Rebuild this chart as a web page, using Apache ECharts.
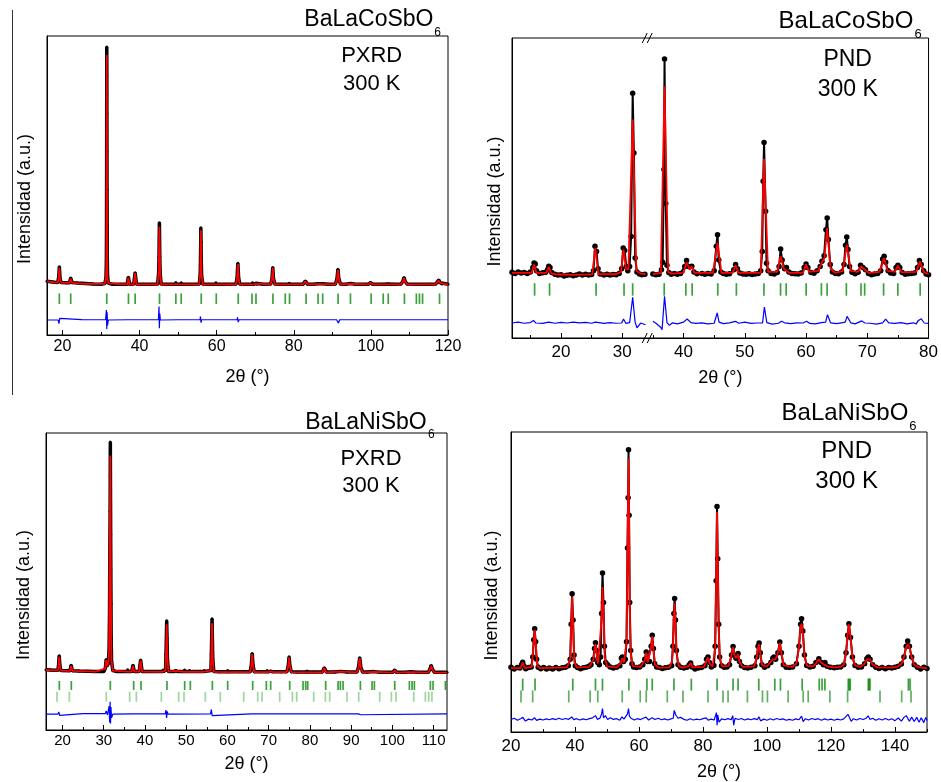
<!DOCTYPE html>
<html>
<head>
<meta charset="utf-8">
<title>BaLaCoSbO6 / BaLaNiSbO6 - Rietveld</title>
<script src="https://cdn.jsdelivr.net/npm/echarts@6.0.0/dist/echarts.min.js"></script>
<style>
  html, body { margin: 0; padding: 0; background: #fff; }
  #main { width: 941px; height: 782px; }
</style>
</head>
<body>
<div id="main"></div>
<script>
// ---------- datos (2theta, intensidad) ----------

// BaLaCoSbO6 - PXRD
var xrdCoTicks = [20, 40, 60, 80, 100, 120];
var xrdCoMinor = [30, 50, 70, 90, 110];
var xrdCoObs = [
  [16,1.6],[17,1.4],[18,1.2],[18.8,1.1],[19.05,3.5],[19.2,7.7],[19.35,3.5],[19.6,1.1],
  [21,1.0],[21.8,1.0],[22.15,2.9],[22.5,1.0],[24,0.8],[26,0.6],[28,0.4],[30,0.3],
  [31.0,0.6],[31.3,3],[31.4,10],[31.43,20],[31.45,35],[31.47,50],[31.48,65],[31.49,80],[31.5,92],[31.5,100],
  [31.52,88],[31.53,72],[31.55,56],[31.57,40],[31.6,25],[31.63,12],[31.7,4],[31.9,0.8],
  [33,0.3],[35,0.3],[36.8,0.3],[37.1,3.3],[37.4,0.3],[38.5,0.4],[38.85,5.2],[39.2,0.4],
  [41,0.3],[43,0.3],[44.7,0.4],[44.95,5],[45.05,12],[45.1,19],[45.15,26.2],[45.2,19],[45.25,12],[45.35,5],[45.6,0.4],
  [47,0.3],[49.1,0.3],[49.4,1.1],[49.7,0.3],[50.5,0.3],[50.8,0.9],[51.1,0.3],
  [53,0.3],[55.5,0.4],[55.75,5],[55.82,12],[55.87,18],[55.9,24],[55.95,18],[56.0,11],[56.1,4],[56.4,0.4],
  [58,0.3],[59.5,0.3],[59.8,0.9],[60.1,0.3],[62,0.3],[65.0,0.4],[65.3,3],[65.5,9.1],[65.7,3],[66.0,0.4],
  [67.5,0.3],[69.0,0.3],[69.3,0.9],[69.6,0.3],[70.2,0.7],[70.5,0.3],[72,0.3],
  [74.0,0.4],[74.35,2.5],[74.55,7.4],[74.75,2.5],[75.1,0.4],[76.5,0.3],[78.4,0.3],[78.8,0.7],[79.2,0.3],
  [81,0.3],[82.4,0.3],[83.0,1.7],[83.6,0.3],[85,0.3],[86.3,0.5],[87.5,0.5],[89,0.3],
  [90.8,0.4],[91.2,2.5],[91.45,6.6],[91.7,2.5],[92.1,0.4],[93.5,0.3],[94.7,0.6],[96,0.3],
  [99.3,0.3],[99.9,1.0],[100.5,0.3],[103,0.3],[104.5,0.4],[106,0.3],
  [107.8,0.4],[108.3,1.5],[108.6,3.2],[108.9,1.5],[109.4,0.4],[112,0.3],[115,0.3],
  [116.8,0.4],[117.3,1.0],[117.6,2.1],[117.9,1.0],[118.4,0.4],[120,0.3]
];
var xrdCoCalc = [
  [16,1.5],[18,1.1],[18.8,1.0],[19.05,3.3],[19.2,7.2],[19.35,3.3],[19.6,1.0],[21.8,0.9],[22.15,2.7],[22.5,0.9],
  [26,0.5],[31.0,0.5],[31.3,3],[31.4,10],[31.5,96.6],[31.6,10],[31.7,3],[31.9,0.7],
  [36.8,0.3],[37.1,3.1],[37.4,0.3],[38.5,0.3],[38.85,5.0],[39.2,0.3],[44.7,0.3],[44.95,5],[45.15,24.5],[45.35,5],[45.6,0.3],
  [49.1,0.3],[49.4,1.0],[49.7,0.3],[50.5,0.3],[50.8,0.8],[51.1,0.3],
  [55.5,0.3],[55.75,5],[55.9,23],[56.1,4],[56.4,0.3],[59.5,0.3],[59.8,0.8],[60.1,0.3],
  [65.0,0.3],[65.3,3],[65.5,8.8],[65.7,3],[66.0,0.3],[69.0,0.3],[69.3,0.8],[69.6,0.3],[70.2,0.6],[70.5,0.3],
  [74.0,0.3],[74.35,2.5],[74.55,7.2],[74.75,2.5],[75.1,0.3],[78.4,0.3],[78.8,0.6],[79.2,0.3],
  [82.4,0.3],[83.0,1.6],[83.6,0.3],[86.3,0.4],[87.5,0.4],[90.8,0.3],[91.2,2.4],[91.45,6.4],[91.7,2.4],[92.1,0.3],
  [94.7,0.5],[99.3,0.3],[99.9,0.9],[100.5,0.3],[104.5,0.3],
  [107.8,0.3],[108.3,1.4],[108.6,3.0],[108.9,1.4],[109.4,0.3],[116.8,0.3],[117.3,0.9],[117.6,2.0],[117.9,0.9],[118.4,0.3],[120,0.2]
];
var xrdCoDiff = [
  [16,-14.7],[18.9,-14.7],[19.1,-16.2],[19.3,-14.0],[19.5,-14.7],[25,-14.5],[31.2,-14.6],[31.4,-10.5],[31.5,-18.5],
  [31.6,-11.5],[31.7,-17],[31.9,-14.7],[36.9,-14.6],[37.1,-14.3],[37.3,-14.6],[38.7,-14.6],[38.85,-14.1],[39.0,-14.6],
  [44.9,-14.6],[45.05,-9],[45.15,-18.2],[45.25,-12],[45.4,-14.7],[50,-14.6],[55.7,-14.6],[55.8,-13.2],[55.95,-15.8],
  [56.1,-14.6],[65.3,-14.6],[65.4,-13.6],[65.6,-15.6],[65.8,-14.6],[74.3,-14.6],[74.45,-13.8],[74.65,-15.4],[74.85,-14.6],
  [80,-14.6],[91.1,-14.6],[91.3,-14.2],[91.6,-16.0],[91.9,-14.6],[100,-14.6],[108.3,-14.6],[108.5,-14.3],[108.8,-15.1],
  [109.1,-14.6],[117.4,-14.6],[117.6,-14.3],[117.8,-14.6],[120,-14.6]
];
var xrdCoBragg = [19.2,22.15,31.5,37.13,38.86,45.18,49.42,50.81,56.0,59.9,65.6,69.16,70.2,74.6,77.8,78.9,83.2,86.3,87.5,
  91.5,94.7,100.07,103.2,104.5,108.7,111.8,112.6,113.4,117.8];

// BaLaCoSbO6 - PND (zona 34-35 recortada)
var pndCoTicks = [20, 30, 40, 50, 60, 70, 80];
var pndCoMinor = [15, 25, 35, 45, 55, 65, 75];
var pndCoGap = 34.4;
var pndCoObs = [
  [12,0.3],[12.5,-0.2],[13,0.4],[13.5,0],[14,0.2],[14.5,-0.3],[15,0.5],[15.4,2.5],[15.6,4.7],[15.8,4.2],[16.0,1.0],
  [16.5,-0.2],[17,0.1],[17.5,0.3],[17.8,1.5],[18.0,3.1],[18.2,2.5],[18.5,0.2],[19,-0.6],[19.5,-1.0],[20,-0.8],
  [20.5,-1.4],[21,-1.1],[21.5,-0.8],[22,-1.3],[22.5,-0.9],[23,-0.5],[23.5,-0.9],[24,-0.6],[24.5,-1.0],[25,-0.7],
  [25.3,1],[25.55,12.5],[25.8,10],[26.05,2],[26.4,-0.5],[27,-0.9],[27.5,-0.6],[28,-1.0],[28.5,-0.7],[29,-0.8],
  [29.5,-0.3],[29.9,2],[30.15,11.7],[30.4,10.5],[30.65,3],[30.9,1],[31.2,3],[31.45,17],[31.7,84],[31.9,56],
  [32.1,7],[32.4,0.5],[32.8,-0.5],[33.2,-0.8],[33.7,-0.6],[pndCoGap,'-'],
  [35.0,-0.5],[35.5,-0.8],[36.0,-0.6],[36.4,1.5],[36.6,5],[36.8,48.3],[36.9,100],[37.1,32.4],[37.3,3.6],[37.6,0.2],
  [38,-0.6],[38.5,-0.3],[39,-0.6],[39.5,-0.2],[40.2,3],[40.5,5.8],[40.8,3],[41.35,3.1],[41.7,0.5],[42.2,-0.4],
  [43,-0.2],[43.5,-0.6],[44,-0.3],[44.5,-0.5],[45.0,1],[45.35,12.5],[45.55,17.9],[45.75,6],[46.1,0.5],[46.5,-0.3],
  [47,-0.6],[47.5,-0.4],[48.2,1.5],[48.5,3.9],[48.8,2],[49.2,0],[49.7,-0.5],[50.2,-0.6],[50.7,-0.4],[51.2,-0.7],
  [51.7,-0.5],[52.2,-0.3],[52.6,1],[52.85,10],[53.0,42.8],[53.15,61],[53.4,28.8],[53.55,4.5],[53.8,1],[54.3,-0.2],
  [54.8,-0.5],[55.3,0.2],[55.6,3],[55.85,11.2],[56.1,6],[56.5,2],[56.8,2.5],[57.2,0.5],[57.7,-0.3],[58.2,-0.4],
  [58.7,-0.5],[59.2,0],[59.7,2.5],[60.0,4.2],[60.3,2.5],[60.8,0.2],[61.3,-0.1],[61.8,1.0],[62.3,3],[62.6,5.5],
  [62.95,8],[63.25,20.2],[63.45,25.7],[63.65,15.6],[63.95,4],[64.3,0.5],[64.8,-0.2],[65.3,-0.4],[65.8,0.5],[66.2,4],
  [66.45,13],[66.65,16.8],[66.85,11],[67.1,3],[67.5,0.3],[68.0,-0.4],[68.5,0.3],[68.9,3.6],[69.3,2.5],[69.7,1.5],
  [70.2,-0.3],[70.7,-0.8],[71.2,-0.5],[71.7,-0.3],[72.2,1],[72.5,6.5],[72.75,7.8],[73.0,5],[73.4,1],[73.8,0],
  [74.3,-0.2],[74.7,2.5],[75.0,3.6],[75.3,2.5],[75.7,0.2],[76.2,-0.6],[76.7,-0.4],[77.2,-0.3],[77.7,0],[78.2,2.5],
  [78.5,5.8],[78.8,4],[79.2,1],[79.6,-0.5],[80,-0.8]
];
var pndCoCalc = [
  [12,0],[15.2,0],[15.6,4],[16.0,0],[17.6,0],[18.0,2.8],[18.4,-0.2],[19,-0.6],[22,-0.9],[25.1,-0.7],[25.6,11.7],
  [26.1,-0.5],[29,-0.6],[29.8,0.5],[30.2,11],[30.6,2],[31.0,1.5],[31.7,71.7],[32.3,1],[33,-0.3],[33.8,-0.5],[pndCoGap,'-'],
  [35,-0.5],[36.3,0],[36.9,87.2],[37.5,0.5],[38,-0.3],[40.0,0],[40.5,5],[41.0,1.5],[41.35,3],[41.8,0],[44.8,0],
  [45.55,14],[46.2,0],[48.0,0],[48.5,3.5],[49.0,0],[52.6,0],[53.15,53.3],[53.8,0.5],[55.3,0.5],[55.85,7.8],[56.4,2],
  [57.3,0],[59.5,0],[60,4],[60.5,0.5],[62.0,1],[62.6,5],[63.0,7],[63.45,21],[64.0,2],[64.8,0],[66.0,1],[66.65,13.2],
  [67.3,1],[68.5,0.5],[69.0,3.2],[69.6,1.5],[70.3,0],[72.0,0.5],[72.7,7],[73.3,1],[74.5,0.5],[75.0,3.4],[75.6,0.3],
  [78.0,0.5],[78.6,5.5],[79.2,0.5],[80,-0.5]
];
var pndCoDiff = [
  [12,-23.4],[13,-23.0],[14,-23.5],[15,-23.2],[15.5,-22.2],[15.9,-23.4],[17,-23.6],[18,-23.0],[19,-23.5],[20,-23.1],
  [21,-23.4],[22,-23.0],[23,-23.3],[24,-23.1],[25,-23.5],[25.6,-23.0],[26.5,-23.3],[27,-23.6],[28,-23.2],[29,-23.5],
  [29.9,-23.4],[30.2,-21.5],[30.6,-23.6],[31.2,-23.2],[31.5,-23.0],[31.7,-11.4],[32.1,-23],[32.4,-25.7],[33,-23.4],
  [33.8,-24.2],[pndCoGap,'-'],
  [35,-22.6],[35.5,-23.5],[36.3,-25.5],[36.5,-26.5],[36.9,-10.9],[37.3,-23.2],[37.7,-24.5],[38.2,-23.3],[39,-23.8],
  [40.0,-23.0],[40.6,-21.5],[41.2,-23.2],[42,-23.6],[43,-23.3],[44,-23.8],[45,-23.5],[45.3,-23.3],[45.5,-18.7],
  [45.8,-23.0],[46.5,-23.7],[47.5,-23.3],[48.5,-22.6],[49,-23.5],[50,-23.0],[51,-23.6],[52,-23.4],[52.9,-23.3],
  [53.0,-21],[53.2,-15.9],[53.6,-23.2],[54.5,-23.9],[55.5,-23.5],[56,-22.6],[56.5,-23.3],[57.5,-23.7],[58.5,-23.3],
  [59.5,-23.4],[60.1,-22.6],[60.6,-23.6],[61.5,-23.8],[62.5,-23.2],[63.2,-23.0],[63.5,-19.5],[64,-23.3],[65,-23.7],
  [66,-23.2],[66.4,-23.0],[66.7,-20.3],[67.3,-23.3],[68,-23.8],[69.1,-22.4],[69.6,-23.4],[70.5,-23.5],[71.5,-23.9],
  [72.5,-23.3],[73.0,-21.6],[73.5,-23.3],[74.5,-23.6],[75.5,-23.2],[76.5,-23.8],[77.5,-23.3],[78.0,-23.8],[78.3,-22.3],
  [78.8,-21.4],[79.3,-23.4],[80,-23.6]
];
var pndCoBragg = [15.69,18.13,25.73,30.29,31.70,36.85,40.38,41.41,45.59,48.63,53.13,55.84,56.76,60.02,62.51,63.44,
  66.58,68.97,69.57,72.66,74.99,78.63];

// BaLaNiSbO6 - PXRD
var xrdNiTicks = [20, 30, 40, 50, 60, 70, 80, 90, 100, 110];
var xrdNiMinor = [25, 35, 45, 55, 65, 75, 85, 95, 105];
var xrdNiObs = [
  [16,1.3],[17,1.2],[18,1.1],[18.9,1.1],[19.05,3.5],[19.2,7.4],[19.35,3.5],[19.6,1.0],[21.8,0.9],[22.1,3.3],[22.4,0.9],
  [24,0.8],[26,0.7],[28,0.6],[30,0.6],[30.4,2],[30.6,5.8],[30.85,3],[31.1,4],[31.3,10],[31.4,25],[31.45,40],[31.5,55],
  [31.55,70],[31.58,85],[31.6,100],[31.62,90],[31.65,75],[31.68,60],[31.72,45],[31.76,30],[31.8,15],[31.9,5],[32.2,1],
  [33,0.6],[35.6,0.6],[35.8,1.3],[36.0,0.6],[36.8,0.6],[37.1,3.3],[37.4,0.6],[38.6,0.6],[38.95,5.5],[39.3,0.6],
  [41,0.5],[44.2,0.5],[44.4,1.2],[44.6,0.5],[45.0,1],[45.1,8],[45.2,16],[45.27,22.5],[45.35,15],[45.45,6],[45.7,0.6],
  [47,0.5],[47.5,0.9],[48,0.5],[49.4,0.5],[49.6,1.2],[49.8,0.5],[50.6,0.5],[50.8,1.0],[51,0.5],[53,0.5],[54.2,0.5],
  [54.4,1.0],[54.6,0.5],[56.0,1],[56.1,8],[56.2,16],[56.27,23.4],[56.35,15],[56.45,6],[56.7,0.5],[58,0.4],[59.8,0.4],
  [60.06,1.0],[60.3,0.4],[63,0.4],[65.5,0.4],[65.8,3.5],[66.0,8.4],[66.2,3.5],[66.5,0.4],[68,0.4],[69.4,0.4],
  [69.6,1.0],[69.9,0.4],[70.5,0.7],[71,0.4],[73,0.4],[74.4,0.4],[74.75,3],[74.95,6.9],[75.15,3],[75.5,0.4],[77,0.3],
  [79.0,0.3],[79.3,0.8],[79.6,0.3],[81,0.3],[83.0,0.3],[83.5,2.2],[84.0,0.3],[86,0.3],[87.5,0.6],[89,0.3],[91.4,0.3],
  [91.8,2.5],[92.08,6.5],[92.35,2.5],[92.8,0.3],[94,0.3],[95.5,0.5],[97,0.2],[100.1,0.2],[100.57,1.2],[101,0.2],
  [103,0.2],[104.5,0.4],[106,0.2],[108.7,0.2],[109.1,1.5],[109.4,3.2],[109.7,1.5],[110.2,0.2],[112,0.2],[113.25,0.2]
];
var xrdNiCalc = [
  [16,1.2],[18,1.0],[18.9,1.0],[19.05,3.3],[19.2,7.0],[19.35,3.3],[19.6,0.9],[21.8,0.8],[22.1,3.1],[22.4,0.8],
  [28,0.5],[30.4,1.8],[30.6,5.5],[30.85,3],[31.1,4],[31.3,10],[31.6,94.2],[31.8,15],[31.9,5],[32.2,0.9],
  [35.6,0.5],[35.8,1.2],[36.0,0.5],[36.8,0.5],[37.1,3.1],[37.4,0.5],[38.6,0.5],[38.95,5.3],[39.3,0.5],
  [44.2,0.4],[44.4,1.1],[44.6,0.4],[45.0,1],[45.27,21],[45.45,6],[45.7,0.5],[47.5,0.8],[49.4,0.4],[49.6,1.1],[49.8,0.4],
  [50.6,0.4],[50.8,0.9],[51,0.4],[54.2,0.4],[54.4,0.9],[54.6,0.4],[56.0,1],[56.27,21.4],[56.45,6],[56.7,0.4],
  [59.8,0.3],[60.06,0.9],[60.3,0.3],[65.5,0.3],[65.8,3.4],[66.0,8.1],[66.2,3.4],[66.5,0.3],[69.4,0.3],[69.6,0.9],
  [69.9,0.3],[70.5,0.6],[71,0.3],[74.4,0.3],[74.75,2.9],[74.95,6.7],[75.15,2.9],[75.5,0.3],[79.0,0.2],[79.3,0.7],[79.6,0.2],
  [83.0,0.2],[83.5,2.1],[84.0,0.2],[87.5,0.5],[91.4,0.2],[91.8,2.4],[92.08,6.3],[92.35,2.4],[92.8,0.2],[95.5,0.4],
  [100.1,0.1],[100.57,1.1],[101,0.1],[104.5,0.3],[108.7,0.1],[109.1,1.4],[109.4,3.0],[109.7,1.4],[110.2,0.1],[113.25,0.1]
];
var xrdNiDiff = [
  [16,-17.9],[18.9,-17.9],[19.1,-17.0],[19.3,-18.5],[19.5,-17.9],[25,-17.7],[30.4,-17.7],[30.6,-16.5],[30.9,-18.3],
  [31.2,-17.6],[31.3,-14.5],[31.45,-21.5],[31.55,-12.6],[31.65,-22.0],[31.75,-14.8],[31.9,-19.5],[32.2,-17.9],
  [36.9,-17.8],[37.1,-17.4],[37.3,-17.8],[44.9,-17.8],[45.1,-16.2],[45.25,-19.6],[45.4,-16.8],[45.6,-17.9],
  [55.9,-17.8],[56.1,-15.9],[56.3,-18.6],[56.5,-17.9],[65.8,-17.8],[66,-17.4],[66.2,-18.2],[66.4,-17.8],
  [74.8,-17.8],[75,-17.5],[75.2,-17.9],[91.8,-17.8],[92.0,-17.4],[92.3,-18.2],[92.5,-17.8],[113.25,-17.8]
];
var xrdNiBragg1 = [19.23,22.14,31.6,37.26,39.04,45.34,49.63,51.0,56.34,60.06,66.13,69.44,70.49,75.1,78.34,78.98,79.47,
  83.83,86.83,87.39,88.04,92.24,95.07,95.64,100.57,104.13,104.78,105.34,109.22,109.87,112.86];
var xrdNiBragg2 = [18.67,21.66,30.63,36.29,37.91,43.97,48.18,49.47,54.64,58.28,63.94,67.34,68.39,72.67,75.75,76.8,
  80.92,83.75,84.8,89.0,91.84,96.93,99.76,100.89,105.18,108.0,108.8,109.6];

// BaLaNiSbO6 - PND
var pndNiTicks = [20, 40, 60, 80, 100, 120, 140];
var pndNiMinor = [30, 50, 70, 90, 110, 130, 150];
var pndNiObs = [
  [20,0.3],[21,-0.4],[22,0.2],[22.8,0],[23.3,1.5],[23.65,2.7],[24.0,1],[24.6,-0.3],[25.5,0.2],[26.3,0.5],[26.8,5],
  [27.1,13],[27.4,18],[27.7,12],[28.0,4],[28.5,0.3],[29.3,-0.3],[30.2,0.2],[31.1,-0.5],[32,0],[33,-0.4],[34,0.2],
  [35,-0.3],[36,0.1],[37,0.3],[37.9,1.0],[38.5,4],[38.8,20],[39.1,34],[39.4,22],[39.7,6],[40.1,1],[40.8,0.2],
  [41.7,-0.3],[42.6,0.1],[43.5,0.4],[44.4,0.8],[45,1.5],[45.7,4],[46.1,9],[46.4,11.6],[46.7,8],[47.1,2.5],[47.6,1.5],
  [48.0,5],[48.3,25],[48.6,43.5],[48.9,30],[49.2,10],[49.6,2.5],[50.2,1.5],[51,0.5],[52,0],[53,0.3],[54.0,1.0],
  [54.5,4.5],[54.8,5],[55.2,3],[55.7,4],[56.1,12],[56.4,55],[56.6,78],[56.73,100],[56.9,70],[57.1,30],[57.4,8],
  [57.8,2],[58.3,0.5],[59.2,0.2],[60.2,0.5],[61.2,1.5],[61.8,4],[62.26,7.3],[62.7,3],[63.3,3],[63.8,10],[64.14,15],
  [64.5,9],[64.9,2],[65.5,0.5],[66.4,0.2],[67.3,-0.2],[68.2,0.1],[69.2,0.3],[70.2,1],[70.6,10],[70.9,25],[71.13,31.8],
  [71.4,22],[71.7,8],[72.2,1.5],[73,0.3],[74,0],[75,0.3],[75.7,1.5],[76.14,2.3],[76.6,0.5],[77.5,-0.4],[78.5,0],
  [79.5,0.2],[80.6,1],[81.1,4],[81.56,5],[82.0,2.5],[82.6,0.5],[83.4,1.2],[83.8,10],[84.1,40],[84.38,74],[84.6,50],
  [84.9,20],[85.2,5],[85.8,1],[86.6,0.3],[87.5,0.5],[88.3,1.5],[88.9,6],[89.39,9.9],[89.8,6],[90.3,4.5],[90.96,6.6],
  [91.4,3],[92,1],[93,0.2],[94,0],[95,0.3],[96.2,1],[96.8,5],[97.2,10],[97.53,11.5],[97.9,7],[98.4,1.5],[99.2,0.3],
  [100.2,1],[101.2,2.5],[101.8,4.5],[102.2,5],[102.7,4],[103.4,7],[104.0,11.9],[104.5,7],[105.1,1.5],[106,0.3],
  [107,0.2],[108,0.5],[109.2,2],[110.0,10],[110.5,20],[110.8,22.6],[111.2,17],[111.7,6],[112.4,1.2],[113.4,0.5],
  [114.4,0.8],[115.3,2.5],[116.2,4.3],[116.9,2.5],[117.6,1.5],[118.1,2.5],[118.8,0.8],[119.8,0.3],[121,0.1],[122,0.3],
  [123,0.5],[124,1.5],[124.7,7],[125.2,15],[125.6,20.3],[126.1,14],[126.7,5],[127.5,1.2],[128.5,0.3],[129.5,0.5],
  [130.5,2],[131.2,4.2],[131.66,5],[132.2,4],[133,1.5],[134,0.3],[135,-0.2],[136,0.2],[137,-0.3],[138,0.2],[139,0],
  [140,0.4],[141,0.8],[142,1.8],[142.8,5],[143.5,10],[143.97,12.4],[144.5,10],[145.2,5],[146,1.5],[147,0.3],
  [148,-0.5],[149,0.3],[150,-0.2]
];
var pndNiCalc = [
  [20,0],[23.0,0],[23.65,2.5],[24.3,0],[26.5,0.5],[27.1,12],[27.4,17.5],[27.7,12],[28.2,1],[29,0],[37.5,0.3],
  [38.5,4],[38.8,19],[39.1,32.8],[39.4,20],[39.8,3],[40.5,0.3],[44.5,0.5],[45.8,4],[46.1,8.5],[46.4,11],[46.7,7.5],
  [47.2,2],[47.8,2],[48.3,22],[48.6,37.1],[48.9,26],[49.3,5],[50,0.8],[53,0.3],[54.2,2],[54.75,4.5],[55.3,2.5],
  [55.7,3],[56.1,12],[56.4,52],[56.73,95.9],[56.9,68],[57.1,28],[57.4,7],[58,1],[60.5,0.5],[61.8,3.5],[62.26,7],
  [62.7,2.5],[63.3,2.5],[63.8,9.5],[64.14,14.5],[64.5,8.5],[65,1.5],[66,0.2],[69.5,0.3],[70.3,3],[70.6,9],[70.9,23],
  [71.13,29.5],[71.4,20],[71.7,7],[72.4,1],[73.5,0.2],[75.6,1],[76.14,2.5],[76.7,0.3],[80.3,0.5],[81.1,3.5],
  [81.56,4.8],[82.1,2],[83,0.8],[83.8,9],[84.1,38],[84.38,71.5],[84.6,48],[84.9,18],[85.3,4],[86,0.8],[88,1],
  [88.9,6],[89.39,9.5],[89.8,6],[90.3,4.5],[90.96,6.3],[91.5,2.5],[92.5,0.5],[96,0.8],[96.8,5],[97.2,9.5],[97.53,11],
  [97.9,6.5],[98.5,1.2],[100,0.8],[101.8,4],[102.2,4.8],[102.7,4],[103.4,7],[104.0,11.5],[104.5,7],[105.2,1.2],
  [108,0.5],[109.2,2],[110.0,9.5],[110.5,19],[110.8,20.3],[111.2,16],[111.7,5.5],[112.5,1],[114.5,0.8],[115.5,2.5],
  [116.2,4],[116.9,2.5],[117.6,1.8],[118.1,2.3],[118.8,0.8],[121,0.3],[123,0.6],[124,1.5],[124.7,7],[125.2,15],
  [125.6,20],[126.1,14],[126.7,5],[127.5,1.2],[129,0.5],[130.5,2],[131.2,4],[131.66,4.8],[132.2,4],[133,1.5],
  [134.5,0.3],[139,0.2],[141,0.8],[142,1.8],[142.8,5],[143.5,9.5],[143.97,11],[144.5,9.5],[145.2,5],[146,1.5],
  [147.5,0.3],[150,0]
];
var pndNiDiff = [
  [20,-23.6],[21,-23.0],[22,-23.9],[23,-23.2],[23.7,-22.6],[24.5,-24.3],[25.5,-23.4],[26.5,-23.8],[27.4,-22.8],[28,-24.0],
  [29,-23.4],[30,-23.8],[31,-23.3],[32,-23.7],[33,-23.2],[34,-23.6],[35,-23.0],[36,-23.6],[37,-23.1],[38,-23.5],
  [39,-22.4],[39.6,-23.6],[40.5,-23.2],[41.5,-23.8],[42.5,-23.3],[43.5,-23.7],[44.5,-23.2],[45.5,-22.8],[46.4,-21.8],
  [47,-23.5],[47.8,-23.0],[48.3,-21.0],[48.6,-18.6],[48.9,-22.8],[49.5,-21.8],[50.2,-23.6],[51,-22.8],[52,-23.5],
  [53,-23.2],[54,-23.9],[54.7,-22.4],[55.3,-23.4],[55.8,-23.9],[56.4,-21],[56.73,-18.6],[57.0,-22.0],[57.5,-23.0],
  [58.5,-23.8],[59.5,-23.2],[60.5,-23.6],[61.3,-23.0],[62.2,-22.5],[63,-23.8],[64.1,-22.8],[65,-23.6],[66,-23.0],
  [67,-23.7],[68,-23.3],[69,-23.8],[70,-23.3],[70.7,-23.0],[71.0,-19.4],[71.5,-21.5],[72.2,-23.0],[73,-22.6],[74,-23.5],
  [75,-23.9],[76,-23.2],[77,-23.8],[78,-23.4],[79,-23.7],[80,-23.2],[81,-22.8],[81.6,-23.9],[82.5,-23.4],[83.5,-23.8],
  [84.2,-20.4],[84.4,-26.2],[84.6,-21.5],[85,-24.8],[85.8,-23.3],[86.8,-23.7],[87.8,-23.2],[88.8,-23.7],[89.3,-21.8],
  [89.6,-26.2],[90,-23.0],[91,-23.6],[92,-23.1],[93,-23.8],[94,-23.3],[95,-23.7],[96,-23.2],[97,-23.6],[97.5,-22.4],
  [98,-24.2],[99,-23.4],[100,-23.9],[101,-23.2],[102,-23.8],[103,-23.1],[104,-23.6],[105,-23.3],[106,-23.9],[107,-23.5],
  [108,-23.9],[109,-23.3],[110,-23.7],[110.8,-22.0],[111.3,-24.5],[112,-23.2],[113,-23.8],[114,-23.1],[115,-23.6],
  [116,-23.2],[117,-23.9],[118,-23.3],[119,-23.8],[120,-23.4],[121,-23.9],[122,-23.4],[123,-23.8],[124,-23.3],
  [125.3,-21.2],[125.8,-21.8],[126.3,-24.4],[127,-23.2],[128,-23.8],[129,-23.1],[130,-23.6],[131,-23.0],[131.6,-21.9],
  [132.2,-23.6],[133,-23.0],[134,-23.9],[135,-23.2],[136,-23.8],[137,-23.1],[138,-23.8],[139,-23.2],[140,-24.1],
  [141,-22.9],[142,-24.3],[142.8,-22.6],[143.5,-21.8],[144,-22.5],[144.5,-24.4],[145.2,-22.5],[146,-24.5],
  [146.8,-22.6],[147.5,-24.8],[148.2,-22.8],[149,-25],[149.6,-22.6],[150,-24]
];
var pndNiBragg1 = [23.65,27.51,39.30,46.40,48.59,56.84,62.47,64.14,70.92,76.35,84.39,89.39,90.96,97.43,102.44,104.21,
  110.99,116.32,117.2,118.09,125.40,125.71,126.0,131.66,131.9,132.19,144.18,144.70];
var pndNiBragg2 = [23.13,26.78,38.05,44.73,47.13,54.75,60.38,62.26,68.84,73.74,81.57,86.26,87.83,93.88,98.58,100.14,
  106.61,111.31,112.87,119.65,125.19,135.31,142.09,145.01];

// ---------- maquetacion ----------
var font = 'Liberation Sans, Arial, sans-serif';
var green = '#0b8a0b';

var panels = [
  { grid: {left: 47, top: 36, width: 401, height: 299}, xMin: 16, xMax: 120, yMin: -21, yMax: 104.6,
    ticks: xrdCoTicks, minor: xrdCoMinor, obs: xrdCoObs, calc: xrdCoCalc, diff: xrdCoDiff,
    bragg: [xrdCoBragg], braggY: [-5.75], braggH: [10.5], braggColor: [green],
    dot: 3, obsWidth: 3.5, labelSize: 16, labelMargin: 4, nameGap: 33, yNameGap: 13 },
  { grid: {left: 512, top: 38, width: 417, height: 300}, xMin: 12, xMax: 80, yMin: -30.4, yMax: 109.8,
    ticks: pndCoTicks, minor: pndCoMinor, obs: pndCoObs, calc: pndCoCalc, diff: pndCoDiff,
    bragg: [pndCoBragg], braggY: [-7.7], braggH: [12.5], braggColor: [green],
    dot: 5.5, obsWidth: 2, labelSize: 17, labelMargin: 6, nameGap: 31, yNameGap: 8 },
  { grid: {left: 46, top: 433, width: 401, height: 297}, xMin: 16, xMax: 113.25, yMin: -24.8, yMax: 103.9,
    ticks: xrdNiTicks, minor: xrdNiMinor, obs: xrdNiObs, calc: xrdNiCalc, diff: xrdNiDiff,
    bragg: [xrdNiBragg1, xrdNiBragg2], braggY: [-5.5, -10.4], braggH: [9, 10], braggColor: [green, '#86cc86'],
    dot: 3, obsWidth: 3.5, labelSize: 15, labelMargin: 3, nameGap: 25, yNameGap: 13 },
  { grid: {left: 511, top: 432, width: 416, height: 300}, xMin: 20, xMax: 150, yMin: -29.3, yMax: 108.1,
    ticks: pndNiTicks, minor: pndNiMinor, obs: pndNiObs, calc: pndNiCalc, diff: pndNiDiff,
    bragg: [pndNiBragg1, pndNiBragg2], braggY: [-7.6, -13.0], braggH: [12, 12], braggColor: [green, '#3a9e3a'],
    dot: 5.5, obsWidth: 2, labelSize: 17, labelMargin: 6, nameGap: 31, yNameGap: 10 }
];

var grids = [], xAxes = [], yAxes = [], series = [];

panels.forEach(function (p, i) {
  grids.push(Object.assign({show: true, borderColor: '#000', borderWidth: 1}, p.grid));

  // eje principal con etiquetas
  xAxes.push({
    type: 'value', gridIndex: i, min: p.xMin, max: p.xMax, position: 'bottom',
    axisLine: {show: true, onZero: false, lineStyle: {color: '#000', width: 1}},
    axisTick: {show: true, inside: true, length: 5, customValues: p.ticks, lineStyle: {color: '#000'}},
    axisLabel: {customValues: p.ticks, color: '#000', fontSize: p.labelSize, margin: p.labelMargin, fontFamily: font},
    splitLine: {show: false},
    name: '2θ (°)', nameLocation: 'middle', nameGap: p.nameGap,
    nameTextStyle: {color: '#000', fontSize: 18, fontFamily: font}
  });
  // ticks menores
  xAxes.push({
    type: 'value', gridIndex: i, min: p.xMin, max: p.xMax, position: 'bottom',
    axisLine: {show: false, onZero: false},
    axisTick: {show: true, inside: true, length: 3, customValues: p.minor, lineStyle: {color: '#000'}},
    axisLabel: {show: false}, splitLine: {show: false}
  });
  yAxes.push({
    type: 'value', gridIndex: i, min: p.yMin, max: p.yMax,
    axisLine: {show: true, onZero: false, lineStyle: {color: '#000', width: 1}},
    axisTick: {show: false}, axisLabel: {show: false}, splitLine: {show: false},
    name: 'Intensidad (a.u.)', nameLocation: 'middle', nameRotate: 90, nameGap: p.yNameGap,
    nameTextStyle: {color: '#000', fontSize: 18, fontFamily: font, padding: [0, 27, 0, 0]}
  });

  var xi = 2 * i;
  // observado
  series.push({
    type: 'line', xAxisIndex: xi, yAxisIndex: i, data: p.obs, z: 2,
    symbol: 'circle', symbolSize: p.dot, showAllSymbol: true,
    itemStyle: {color: '#000'}, lineStyle: {color: '#000', width: p.obsWidth}
  });
  // calculado
  series.push({
    type: 'line', xAxisIndex: xi, yAxisIndex: i, data: p.calc, z: 3, showSymbol: false,
    lineStyle: {color: '#ff0000', width: 1.8}
  });
  // reflexiones de Bragg
  p.bragg.forEach(function (pos, r) {
    series.push({
      type: 'scatter', xAxisIndex: xi, yAxisIndex: i, z: 3,
      data: pos.map(function (x) { return [x, p.braggY[r]]; }),
      symbol: 'rect', symbolSize: [1.7, p.braggH[r]],
      itemStyle: {color: p.braggColor[r]}
    });
  });
  // diferencia
  series.push({
    type: 'line', xAxisIndex: xi, yAxisIndex: i, data: p.diff, z: 3, showSymbol: false,
    lineStyle: {color: '#0000ff', width: 1.2}
  });
});

var chart = echarts.init(document.getElementById('main'));
chart.setOption({
  backgroundColor: '#fff',
  animation: false,
  grid: grids,
  xAxis: xAxes,
  yAxis: yAxes,
  series: series
});

// textos, separador y marcas de corte
function txt(x, y, s, size, align) {
  return {type: 'text', x: x, y: y, z: 10,
    style: {text: s, font: size + 'px ' + font, fill: '#000', textAlign: align, textVerticalAlign: 'middle'}};
}
var graphics = [
  {type: 'line', shape: {x1: 12.5, y1: 10, x2: 12.5, y2: 395}, style: {stroke: '#333', lineWidth: 1}},
  txt(433.5, 19.5, 'BaLaCoSbO', 23, 'right'), txt(434.3, 32.5, '6', 12, 'left'),
  txt(371.7, 56, 'PXRD', 22, 'center'), txt(371.7, 83.5, '300 K', 22, 'center'),
  txt(913.3, 21.3, 'BaLaCoSbO', 24, 'right'), txt(914.5, 34.8, '6', 13, 'left'),
  txt(847.7, 59.7, 'PND', 23, 'center'), txt(847.7, 90, '300 K', 23, 'center'),
  txt(426.7, 422.8, 'BaLaNiSbO', 23, 'right'), txt(428, 435, '6', 12, 'left'),
  txt(371, 459.2, 'PXRD', 22, 'center'), txt(371, 486.2, '300 K', 22, 'center'),
  txt(908.3, 413.3, 'BaLaNiSbO', 24, 'right'), txt(909.3, 426, '6', 13, 'left'),
  txt(846.7, 451.7, 'PND', 24, 'center'), txt(846.7, 481.7, '300 K', 24, 'center')
];
[panels[1].yMax, panels[1].yMin].forEach(function (yv) {
  var pt = chart.convertToPixel({xAxisIndex: 2, yAxisIndex: 1}, [pndCoGap, yv]);
  graphics.push({type: 'line', z: 10, shape: {x1: pt[0] - 7, y1: pt[1] + 5, x2: pt[0] - 2, y2: pt[1] - 5},
    style: {stroke: '#000', lineWidth: 1}});
  graphics.push({type: 'line', z: 10, shape: {x1: pt[0] - 2, y1: pt[1] + 5, x2: pt[0] + 3, y2: pt[1] - 5},
    style: {stroke: '#000', lineWidth: 1}});
});
chart.setOption({graphic: graphics});
</script>
</body>
</html>
